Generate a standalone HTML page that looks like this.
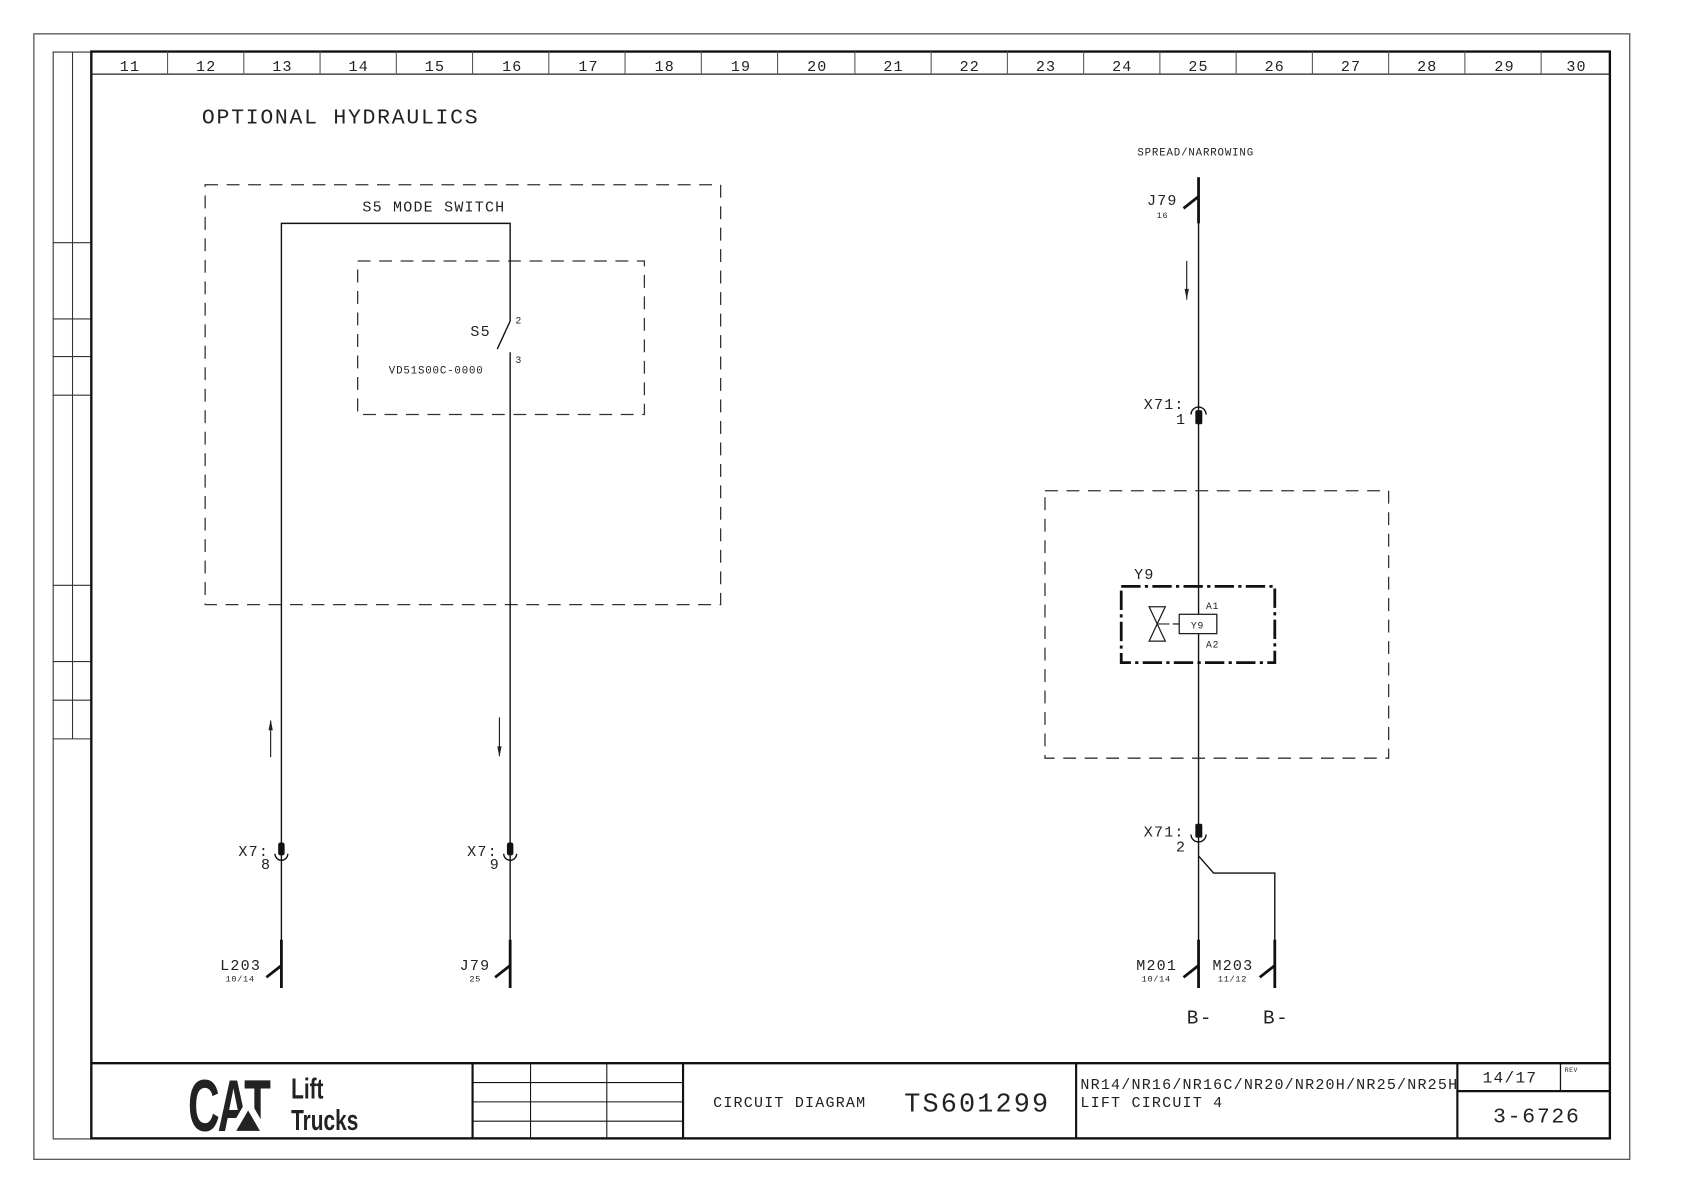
<!DOCTYPE html>
<html><head><meta charset="utf-8"><style>
html,body{margin:0;padding:0;background:#fff;}
svg{display:block}
text{font-family:"Liberation Mono",monospace;fill:#222;letter-spacing:0.08em}
</style></head><body>
<svg width="1684" height="1191" viewBox="0 0 1568 1109" xmlns="http://www.w3.org/2000/svg">
<rect x="0" y="0" width="1568" height="1109" fill="#fff"/>
<rect x="31.5" y="31.5" width="1486" height="1048" fill="none" stroke="#555" stroke-width="1.2"/>
<g stroke="#333" stroke-width="1" fill="none">
<line x1="49.5" y1="48" x2="49.5" y2="1060"/>
<line x1="67.5" y1="48" x2="67.5" y2="688"/>
<line x1="49" y1="48.5" x2="85" y2="48.5"/>
<line x1="49" y1="1060.5" x2="85" y2="1060.5"/>
<line x1="49" y1="226" x2="85" y2="226"/>
<line x1="49" y1="297" x2="85" y2="297"/>
<line x1="49" y1="332" x2="85" y2="332"/>
<line x1="49" y1="368" x2="85" y2="368"/>
<line x1="49" y1="545" x2="85" y2="545"/>
<line x1="49" y1="616" x2="85" y2="616"/>
<line x1="49" y1="652" x2="85" y2="652"/>
<line x1="49" y1="688" x2="85" y2="688"/>
</g>
<rect x="85" y="48" width="1414" height="1012" fill="none" stroke="#111" stroke-width="2.2"/>
<line x1="85" y1="69" x2="1499" y2="69" stroke="#222" stroke-width="1.2"/>
<g stroke="#555" stroke-width="1">
<line x1="156" y1="48" x2="156" y2="69"/><line x1="227" y1="48" x2="227" y2="69"/><line x1="298" y1="48" x2="298" y2="69"/><line x1="369" y1="48" x2="369" y2="69"/><line x1="440" y1="48" x2="440" y2="69"/><line x1="511" y1="48" x2="511" y2="69"/><line x1="582" y1="48" x2="582" y2="69"/><line x1="653" y1="48" x2="653" y2="69"/><line x1="724" y1="48" x2="724" y2="69"/><line x1="796" y1="48" x2="796" y2="69"/><line x1="867" y1="48" x2="867" y2="69"/><line x1="938" y1="48" x2="938" y2="69"/><line x1="1009" y1="48" x2="1009" y2="69"/><line x1="1080" y1="48" x2="1080" y2="69"/><line x1="1151" y1="48" x2="1151" y2="69"/><line x1="1222" y1="48" x2="1222" y2="69"/><line x1="1293" y1="48" x2="1293" y2="69"/><line x1="1364" y1="48" x2="1364" y2="69"/><line x1="1435" y1="48" x2="1435" y2="69"/>
</g>
<g font-size="14" text-anchor="middle">
<text x="121" y="66">11</text><text x="192" y="66">12</text><text x="263" y="66">13</text><text x="334" y="66">14</text><text x="405" y="66">15</text><text x="477" y="66">16</text><text x="548" y="66">17</text><text x="619" y="66">18</text><text x="690" y="66">19</text><text x="761" y="66">20</text><text x="832" y="66">21</text><text x="903" y="66">22</text><text x="974" y="66">23</text><text x="1045" y="66">24</text><text x="1116" y="66">25</text><text x="1187" y="66">26</text><text x="1258" y="66">27</text><text x="1329" y="66">28</text><text x="1401" y="66">29</text><text x="1468" y="66">30</text>
</g>
<g stroke="#111" fill="none">
<line x1="85" y1="990" x2="1499" y2="990" stroke-width="2.2"/>
<line x1="440" y1="990" x2="440" y2="1060" stroke-width="2"/>
<line x1="636" y1="990" x2="636" y2="1060" stroke-width="2"/>
<line x1="1002" y1="990" x2="1002" y2="1060" stroke-width="2"/>
<line x1="1357" y1="990" x2="1357" y2="1060" stroke-width="2"/>
<line x1="1357" y1="1016" x2="1499" y2="1016" stroke-width="2"/>
<line x1="1453" y1="990" x2="1453" y2="1016" stroke-width="1.2"/>
<g stroke-width="1"><line x1="494" y1="990" x2="494" y2="1060"/><line x1="565" y1="990" x2="565" y2="1060"/>
<line x1="440" y1="1008" x2="636" y2="1008"/><line x1="440" y1="1026" x2="636" y2="1026"/><line x1="440" y1="1044" x2="636" y2="1044"/></g>
</g>
<!-- CAT logo -->
<text x="0" y="0" font-size="68" font-weight="bold" transform="translate(175 1053) scale(0.6 1)" style="font-family:'Liberation Sans',sans-serif;fill:#222;letter-spacing:-3px">CAT</text>
<polygon points="213,1053 231,1022 249,1053" fill="#fff"/>
<polygon points="220,1053 231,1034 242,1053" fill="#222"/>
<text x="0" y="0" font-size="27" font-weight="bold" transform="translate(271 1023) scale(0.72 1)" style="font-family:'Liberation Sans',sans-serif;fill:#222;letter-spacing:0">Lift</text>
<text x="0" y="0" font-size="27" font-weight="bold" transform="translate(271 1052) scale(0.72 1)" style="font-family:'Liberation Sans',sans-serif;fill:#222;letter-spacing:0">Trucks</text>
<text x="664" y="1031" font-size="14">CIRCUIT DIAGRAM</text>
<text x="842" y="1035" font-size="25">TS601299</text>
<text x="1006" y="1014" font-size="14">NR14/NR16/NR16C/NR20/NR20H/NR25/NR25H</text>
<text x="1006" y="1031" font-size="14">LIFT CIRCUIT 4</text>
<text x="1406" y="1008" font-size="15" text-anchor="middle">14/17</text>
<text x="1457" y="998" font-size="6" fill="#777">REV</text>
<text x="1431" y="1045" font-size="20" text-anchor="middle">3-6726</text>

<text x="188" y="115" font-size="20">OPTIONAL HYDRAULICS</text>
<rect x="191" y="172" width="480" height="391" fill="none" stroke="#333" stroke-width="1.2" stroke-dasharray="12,8"/>
<rect x="333" y="243" width="267" height="143" fill="none" stroke="#333" stroke-width="1.2" stroke-dasharray="12,8"/>
<text x="404" y="197" font-size="14" text-anchor="middle">S5 MODE SWITCH</text>
<g stroke="#111" stroke-width="1.3" fill="none">
<polyline points="262,920 262,208 475,208 475,299"/>
<line x1="475" y1="299" x2="463" y2="325"/>
<line x1="475" y1="328" x2="475" y2="920"/>
<line x1="252" y1="671" x2="252" y2="705" stroke-width="1"/>
<line x1="465" y1="668" x2="465" y2="704" stroke-width="1"/>
<line x1="1105" y1="243" x2="1105" y2="279" stroke-width="1"/>
</g>
<polygon points="250,680 254,680 252,670" fill="#222"/>
<polygon points="463,695 467,695 465,705" fill="#222"/>
<polygon points="1103,269 1107,269 1105,279" fill="#222"/>
<text x="480" y="301" font-size="9">2</text>
<text x="480" y="338" font-size="9">3</text>
<text x="438" y="313" font-size="14">S5</text>
<text x="362" y="348" font-size="10">VD51S00C-0000</text>

<g fill="#111" stroke="#111">
<rect x="259.5" y="785" width="5" height="11" rx="1.5"/>
<path d="M256,795 A6,6 0 0 0 268,795" fill="none" stroke-width="1.3"/>
<rect x="472.5" y="785" width="5" height="11" rx="1.5"/>
<path d="M469,795 A6,6 0 0 0 481,795" fill="none" stroke-width="1.3"/>
</g>
<text x="222" y="797" font-size="14">X7:</text><text x="243" y="809" font-size="14">8</text>
<text x="435" y="797" font-size="14">X7:</text><text x="456" y="809" font-size="14">9</text>

<g stroke="#111" stroke-width="2.6" fill="none">
<line x1="262" y1="875" x2="262" y2="920"/><line x1="262" y1="899" x2="248" y2="910"/>
<line x1="475" y1="875" x2="475" y2="920"/><line x1="475" y1="899" x2="461" y2="910"/>
<line x1="1116" y1="875" x2="1116" y2="920"/><line x1="1116" y1="899" x2="1102" y2="910"/>
<line x1="1187" y1="875" x2="1187" y2="920"/><line x1="1187" y1="899" x2="1173" y2="910"/>
<line x1="1116" y1="165" x2="1116" y2="208"/><line x1="1116" y1="183" x2="1102" y2="194"/>
</g>
<text x="205" y="903" font-size="14">L203</text><text x="210" y="914" font-size="8">10/14</text>
<text x="428" y="903" font-size="14">J79</text><text x="437" y="914" font-size="8">25</text>
<text x="1058" y="903" font-size="14">M201</text><text x="1063" y="914" font-size="8">10/14</text>
<text x="1129" y="903" font-size="14">M203</text><text x="1134" y="914" font-size="8">11/12</text>
<text x="1105" y="953" font-size="18">B-</text><text x="1176" y="953" font-size="18">B-</text>

<text x="1059" y="145" font-size="10">SPREAD/NARROWING</text>
<text x="1068" y="191" font-size="14">J79</text><text x="1077" y="203" font-size="8">16</text>
<g stroke="#111" stroke-width="1.3" fill="none">
<line x1="1116" y1="205" x2="1116" y2="920"/>
<polyline points="1116,797 1130,813 1187,813 1187,920"/>
<path d="M1109,386 A7,7 0 0 1 1123,386"/>
<path d="M1109,777 A7,7 0 0 0 1123,777"/>
</g>
<rect x="1113" y="382" width="6.5" height="13" rx="1.5" fill="#111"/>
<rect x="1113" y="767" width="6.5" height="13" rx="1.5" fill="#111"/>
<text x="1065" y="381" font-size="14">X71:</text><text x="1095" y="395" font-size="14">1</text>
<text x="1065" y="779" font-size="14">X71:</text><text x="1095" y="793" font-size="14">2</text>
<rect x="973" y="457" width="320" height="249" fill="none" stroke="#333" stroke-width="1.2" stroke-dasharray="12,8"/>
<rect x="1044" y="546" width="143" height="71" fill="none" stroke="#111" stroke-width="2.6" stroke-dasharray="18,4,3,4"/>
<text x="1056" y="539" font-size="14">Y9</text>
<rect x="1098" y="572" width="35" height="18" fill="#fff" stroke="#222" stroke-width="1.2"/>
<text x="1115" y="585" font-size="9" text-anchor="middle">Y9</text>
<text x="1123" y="567" font-size="9">A1</text><text x="1123" y="603" font-size="9">A2</text>
<line x1="1092" y1="581" x2="1098" y2="581" stroke="#222" stroke-width="1.2"/>
<path d="M1070,565 L1085,565 L1070,597 L1085,597 Z" fill="none" stroke="#222" stroke-width="1.2"/>
<line x1="1077" y1="581" x2="1089" y2="581" stroke="#222" stroke-width="1"/>
</svg>
</body></html>
